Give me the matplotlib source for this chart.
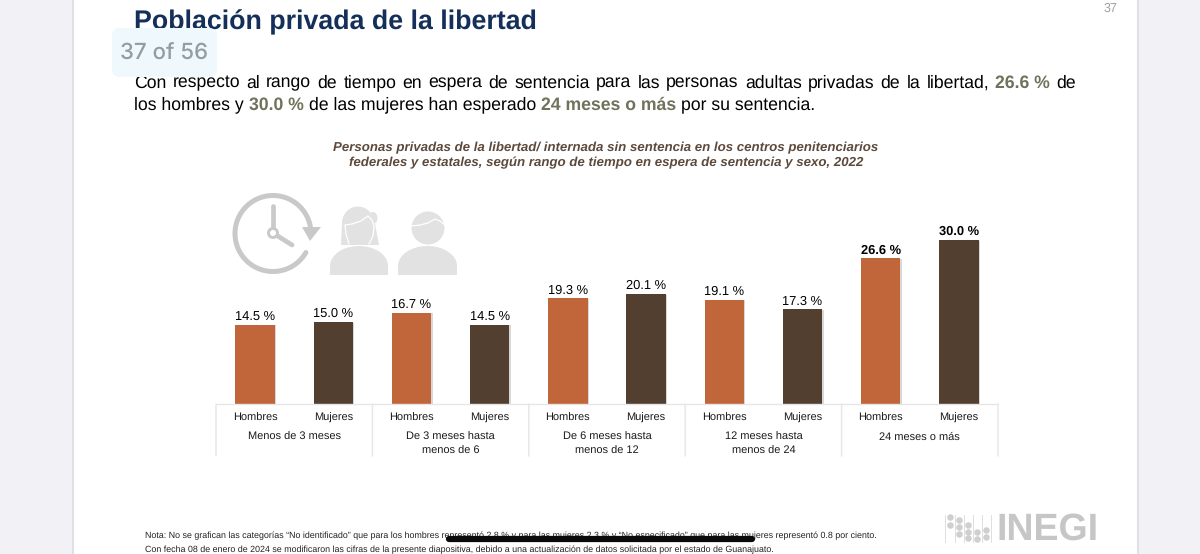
import matplotlib

matplotlib.use("Agg")
import matplotlib.pyplot as plt
import matplotlib.patheffects as pe
from matplotlib.patches import Circle, Ellipse, FancyBboxPatch, Polygon, Rectangle
import numpy as np

plt.rcParams["font.family"] = ["Liberation Sans", "DejaVu Sans"]
plt.rcParams["text.hinting"] = "none"

# data
groups = ["Menos de 3 meses", "De 3 meses hasta\nmenos de 6", "De 6 meses hasta\nmenos de 12",
          "12 meses hasta\nmenos de 24", "24 meses o más"]
hombres = [14.5, 16.7, 19.3, 19.1, 26.6]
mujeres = [15.0, 14.5, 20.1, 17.3, 30.0]
sexes = ["Hombres", "Mujeres"]

title = "Población privada de la libertad"
chart_title = ("Personas privadas de la libertad/ internada sin sentencia en los centros penitenciarios\n"
               "federales y estatales, según rango de tiempo en espera de sentencia y sexo, 2022")
line_1 = [("Con respecto al rango de tiempo en espera de sentencia para las personas adultas "
           "privadas de la libertad,", False), ("26.6 %", True), ("de", False)]
line_2 = [("los hombres y", False), ("30.0 %", True), ("de las mujeres han esperado", False),
          ("24 meses o más", True), ("por su sentencia.", False)]
note_1 = ("Nota: No se grafican las categorías “No identificado” que para los hombres representó 2.8 % y para "
          "las mujeres 2.3 % y “No especificado” que para las mujeres representó 0.8 por ciento.")
note_2 = ("Con fecha 08 de enero de 2024 se modificaron las cifras de la presente diapositiva, debido a una "
          "actualización de datos solicitada por el estado de Guanajuato.")

ORANGE = "#c1653a"
BROWN = "#523f2f"
GREEN = "#6f735b"
GRID = "#e6e6e6"
ICON = "#e2e2e2"
CLOCK = "#c9c9c9"
LOGO = "#c6c6c6"

W, H = 1200, 554
fig = plt.figure(figsize=(W / 100, H / 100), dpi=100, facecolor="white")

# page layer in pixel coordinates, y going down like the screenshot
page = fig.add_axes([0, 0, 1, 1], zorder=1)
page.set_xlim(0, W)
page.set_ylim(H, 0)
page.axis("off")

page.add_patch(Rectangle((0, 0), 73, H, fc="#f1f1f6", ec="none"))
page.add_patch(Rectangle((1138, 0), W - 1138, H, fc="#f1f1f6", ec="none"))
page.plot([73, 73], [0, H], color="#dfdfe6", lw=1.5)
page.plot([1138, 1138], [0, H], color="#dfdfe6", lw=1.5)

page.text(134, 22, title, fontsize=19.25, fontweight="bold", color="#14305a", va="center")
page.text(1110, 9, "37", fontsize=9, color="#a0a0a0", ha="center", va="center")


def draw_words(runs, x0, y, size, x1=None):
    # each run is one text, so bold parts sit inline; x1 spreads the line word by word
    pieces = []
    for chunk, bold in runs:
        parts = chunk.split(" ") if x1 is not None and not chunk.endswith("%") else [chunk]
        pieces += [(part, bold) for part in parts]
    items = [page.text(x0, y, piece, fontsize=size, va="center", color=GREEN if bold else "black",
                       fontweight="bold" if bold else "normal") for piece, bold in pieces]
    renderer = fig.canvas.get_renderer()
    widths = [item.get_window_extent(renderer).width for item in items]
    gap = size * 100 / 72 * 0.29
    if x1 is not None:
        gap = (x1 - x0 - sum(widths)) / (len(items) - 1)
    x = x0
    for item, width in zip(items, widths):
        item.set_x(x)
        x += width + gap


draw_words(line_1, 134, 83, 12.7, x1=1076)
draw_words(line_2, 134, 105, 12.7)

# the viewer's page badge sits on top of the text
page.add_patch(FancyBboxPatch((112, 28), 105, 49, boxstyle="round,pad=0,rounding_size=8",
                              fc="#eef8fd", ec="none", zorder=5))
page.text(164, 54, "37 of 56", fontsize=16, family="Inter", fontweight="medium", color="#939da1",
          ha="center", va="center", zorder=6)

page.text(606, 155.5, chart_title, fontsize=9.5, fontweight="bold", style="italic", color="#5c4a3c",
          ha="center", va="center", linespacing=1.3)

# clock icon
t = np.radians(np.linspace(30, 350, 120))
page.plot(273 + 38 * np.cos(t), 233.5 + 38 * np.sin(t), color=CLOCK, lw=3.6, solid_capstyle="round")
page.add_patch(Polygon([[321, 227], [302, 227], [310, 241]], fc=CLOCK, ec="none"))
page.plot([273, 273], [206, 233], color=CLOCK, lw=3.4, solid_capstyle="round")
page.plot([273, 292], [233, 245], color=CLOCK, lw=3.4, solid_capstyle="round")
page.add_patch(Circle((273, 233), 6, fc=CLOCK, ec="none", zorder=3))
page.add_patch(Circle((273, 233), 3, fc="white", ec="none", zorder=3))


def draw_body(x0, x1):
    a = np.radians(np.linspace(180, 360, 40))
    cx = (x0 + x1) / 2
    px = cx + (x1 - x0) / 2 * np.cos(a)
    py = 266 + 20 * np.sin(a)
    outline = np.column_stack([px, py]).tolist() + [[x1, 275], [x0, 275]]
    page.add_patch(Polygon(outline, fc=ICON, ec="none"))


# woman
draw_body(330, 388)
page.add_patch(Ellipse((358, 223), 32, 33, fc=ICON, ec="none"))
page.add_patch(Ellipse((373, 218), 9, 12, fc=ICON, ec="none"))
page.add_patch(Polygon([[342, 224], [375, 224], [379, 245], [341, 245]], fc=ICON, ec="none"))
page.plot([349, 346, 345, 352, 361, 368, 372, 374, 373, 369],
          [244, 234, 225, 224, 221, 216, 220, 227, 236, 244], color="white", lw=0.9)
# man
draw_body(398, 457)
page.add_patch(Circle((428, 228), 16.5, fc=ICON, ec="none"))
page.plot([411, 420, 428, 435, 440, 445], [226, 225, 223, 219, 221, 225], color="white", lw=0.9)

# footnote, redaction scribble and logo
page.text(145, 536, note_1, fontsize=6.4, color="#222222", va="center")
page.text(145, 550, note_2, fontsize=6.4, color="#222222", va="center")
page.plot([449, 752], [538.5, 538.5], color="#0a0a0a", lw=4.5, solid_capstyle="round", zorder=4)

for col, rows in zip([950, 959, 968, 977, 986], [[517, 525], [520, 527, 534], [525, 532, 538], [532, 539], [530, 537]]):
    page.scatter([col] * len(rows), rows, s=22, color="#cfcfcf", lw=0)
for col in [945, 954.5, 963.5, 972.5, 981.5, 991]:
    page.plot([col, col], [515, 542], color="#d9d9d9", lw=0.6)
page.text(1048, 529.5, "INEGI", fontsize=27, fontweight="bold", color=LOGO, ha="center", va="center")

# chart
ax = fig.add_axes([216 / W, (H - 404) / H, 782 / W, 214 / H], zorder=2)
ax.patch.set_alpha(0)
values = [v for pair in zip(hombres, mujeres) for v in pair]
x = np.arange(len(values))
colors = [ORANGE, BROWN] * len(groups)
bars = ax.bar(x, values, width=0.505, color=colors, linewidth=0)
for bar in bars:
    bar.set_path_effects([pe.withSimplePatchShadow(offset=(1.0, -0.5), shadow_rgbFace="#909090", alpha=0.35)])
for i, (pos, value) in enumerate(zip(x, values)):
    ax.annotate(f"{value:.1f} %", (pos, value), xytext=(0, 1.6), textcoords="offset points", ha="center",
                va="bottom", fontsize=9.3, color="black", fontweight="bold" if i >= 8 else "normal")

ax.set_xlim(-0.5, len(values) - 0.5)
ax.set_ylim(0, 214 / 5.47)
ax.set_yticks([])
ax.set_xticks(x, sexes * len(groups), fontsize=7.9, color="#1a1a1a")
ax.tick_params(axis="x", length=0, pad=6.5)
for side in ["top", "right", "left"]:
    ax.spines[side].set_visible(False)
ax.spines["bottom"].set_color(GRID)
ax.spines["bottom"].set_linewidth(1)

for i, group in enumerate(groups):
    ax.annotate(group, (2 * i + 0.5, 0), xytext=(0, -20), textcoords="offset points", ha="center", va="top",
                fontsize=7.9, color="#1a1a1a", linespacing=1.55, annotation_clip=False)
for edge in np.arange(len(groups) + 1) * 2 - 0.5:
    ax.annotate("", (edge, 0), xytext=(0, -37.5), textcoords="offset points",
                arrowprops=dict(arrowstyle="-", color=GRID, lw=1, shrinkA=0, shrinkB=0), annotation_clip=False)

fig.savefig("out.png", dpi=100)
plt.close(fig)
